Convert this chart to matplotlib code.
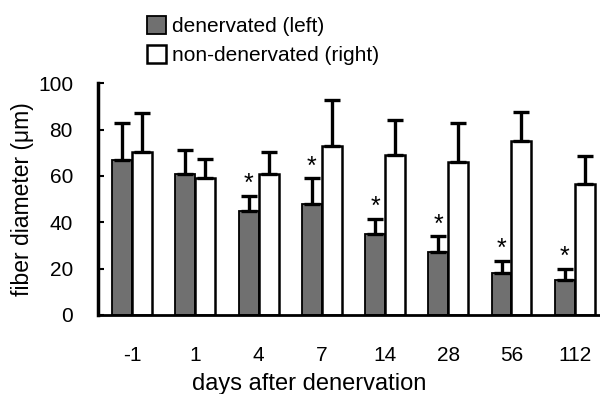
import numpy as np
import matplotlib
matplotlib.use('Agg')
import matplotlib.pyplot as plt

plt.rcParams['font.family'] = ['Liberation Sans', 'DejaVu Sans']

# fiber diameter (um)
days = ['-1', '1', '4', '7', '14', '28', '56', '112']
den = [67, 61, 45, 48, 35, 27, 18, 15]
den_sd = [16, 10, 6.5, 11, 6.5, 7, 5.5, 5]
non = [70.5, 59, 61, 73, 69, 66, 75, 56.5]
non_sd = [16.5, 8.5, 9.5, 20, 15, 17, 12.5, 12]
sig = [False, False, True, True, True, True, True, True]

fig = plt.figure(figsize=(6, 3.94), dpi=100)
ax = fig.add_axes([98/600, 79/394, 502/600, 231.7/394])

x = np.arange(len(days))
w = 0.315
zeros = np.zeros(len(days))
ekw = dict(elinewidth=2.4, capsize=5.5, capthick=2.4, ecolor='black')

b1 = ax.bar(x - w/2, den, w, yerr=[zeros, den_sd], color='#707070',
            edgecolor='black', linewidth=1.3, error_kw=ekw,
            label='denervated (left)', zorder=2)
b2 = ax.bar(x + w/2, non, w, yerr=[zeros, non_sd], color='white',
            edgecolor='black', linewidth=1.8, error_kw=ekw,
            label='non-denervated (right)', zorder=2)

for i in range(len(days)):
    if sig[i]:
        ax.text(x[i] - w/2, den[i] + den_sd[i] + 5, '*', ha='center',
                va='center', fontsize=18)

ax.set_xlim(-0.54, 7.40)
ax.set_ylim(0, 100)
ax.set_yticks([0, 20, 40, 60, 80, 100])
ax.set_xticks(x)
ax.set_xticklabels(days)
ax.tick_params(axis='y', direction='in', length=4, width=1.5, pad=18,
               labelsize=15)
ax.tick_params(axis='x', length=0, pad=22, labelsize=15)
for s in ['top', 'right']:
    ax.spines[s].set_visible(False)
ax.spines['left'].set_linewidth(2.5)
ax.spines['bottom'].set_linewidth(2)

ax.set_xlabel('days after denervation', fontsize=17, labelpad=6)
ax.xaxis.label.set_x((309 - 98) / 502)
ax.set_ylabel('fiber diameter (\u03bcm)', fontsize=16.5, labelpad=3)

fig.legend(handles=[b1, b2], loc='upper left', bbox_to_anchor=(131/600, 1.0),
           frameon=False, fontsize=15, handlelength=0.95, handleheight=0.95,
           handletextpad=0.25, labelspacing=0.45, borderaxespad=0.35)

fig.savefig('out.png', dpi=100)
